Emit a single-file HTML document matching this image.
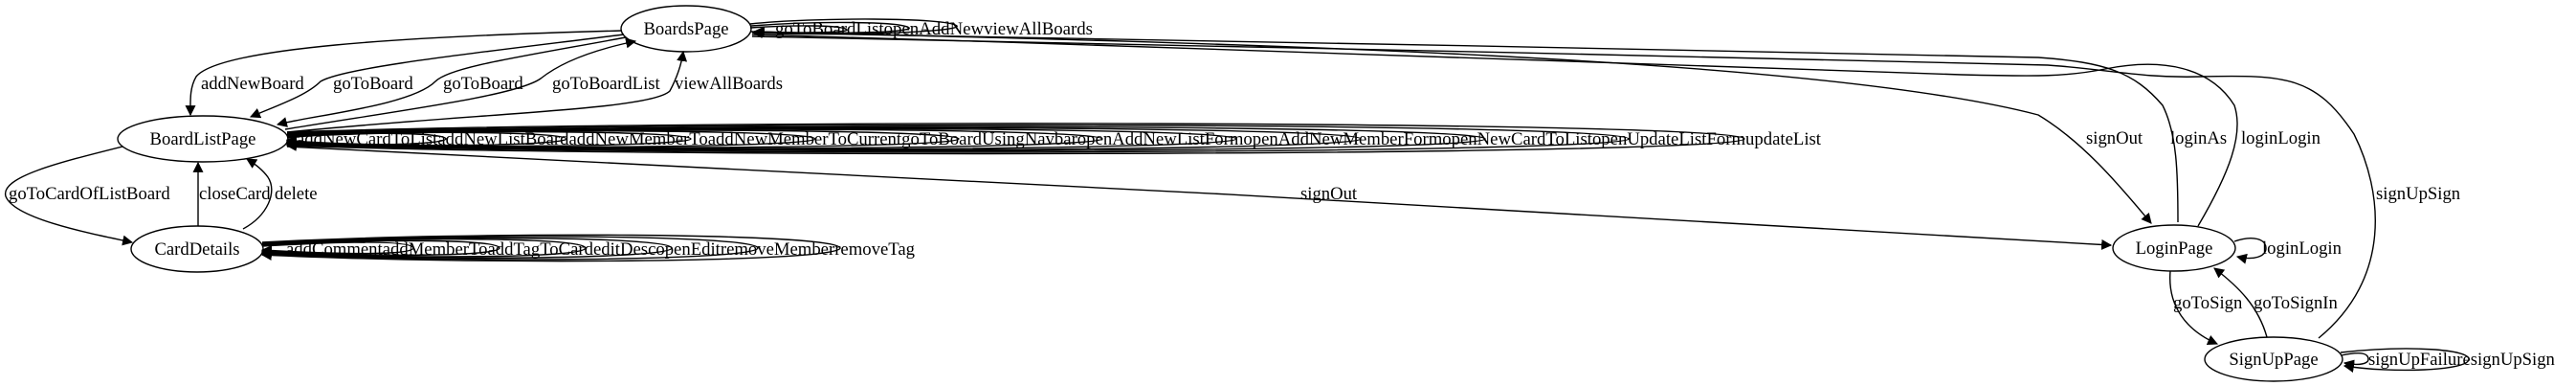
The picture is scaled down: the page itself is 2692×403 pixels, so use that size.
<!DOCTYPE html>
<html><head><meta charset="utf-8"><style>
html,body{margin:0;padding:0;background:#fff;}
svg{display:block;}
text{font-family:"Liberation Serif",serif;font-size:18.67px;fill:#000;}
</style></head><body>
<svg width="2692" height="403" viewBox="0 0 2692 403" xmlns="http://www.w3.org/2000/svg">
<defs>
<marker id="a" viewBox="0 0 10 10" refX="9" refY="5" markerWidth="11" markerHeight="11" markerUnits="userSpaceOnUse" orient="auto">
<path d="M0,0 L10,5 L0,10 z" fill="#000"/></marker>
</defs>
<g fill="none" stroke="#000" stroke-width="1.4">
<!-- nodes -->
<ellipse cx="717" cy="30" rx="68" ry="24"/>
<ellipse cx="212" cy="145" rx="89" ry="24"/>
<ellipse cx="206" cy="260" rx="69" ry="24"/>
<ellipse cx="2272" cy="259" rx="64" ry="24"/>
<ellipse cx="2376" cy="375" rx="72" ry="23"/>

<!-- BoardsPage -> BoardListPage -->
<path d="M650,32 C420,38 230,50 205,80 C198,92 199,105 199,120" marker-end="url(#a)"/>
<path d="M652,36 C500,55 360,70 335,85 C320,100 290,110 262,122" marker-end="url(#a)"/>
<path d="M654,39 C540,60 470,70 455,85 C430,110 330,120 290,130" marker-end="url(#a)"/>
<!-- BoardListPage -> BoardsPage -->
<path d="M298,135 C420,115 540,100 565,82 C590,62 630,50 664,43" marker-end="url(#a)"/>
<path d="M300,138 C500,118 680,115 700,95 C708,80 712,68 714,54" marker-end="url(#a)"/>

<!-- BoardsPage self loops -->
<path d="M784,25 C850,18 990,18 1000,27 C1005,34 860,38 787,34" marker-end="url(#a)"/>
<path d="M785,27 C850,22 940,22 950,29 C955,34 860,36 788,33" marker-end="url(#a)"/>
<path d="M784,29 C830,26 880,26 885,31 C888,34 830,35 789,33" marker-end="url(#a)"/>

<!-- BoardsPage <-> LoginPage long edges -->
<path d="M784,33 C1300,45 1900,60 2130,120 C2180,150 2220,200 2248,233" marker-end="url(#a)"/>
<path d="M2276,232 C2276,180 2275,140 2260,110 C2230,75 2200,65 2130,60 C1700,50 1200,42 786,34"/>
<path d="M2297,236 C2330,180 2345,140 2335,110 C2310,70 2260,60 2200,72 C2160,80 2130,80 2050,78 C1600,62 1200,48 786,36"/>
<path d="M2423,353 C2500,290 2490,200 2460,140 C2420,80 2390,78 2300,80 C2240,82 2200,72 2140,68 C1700,58 1200,45 786,38"/>

<!-- BoardListPage -> LoginPage signOut -->
<path d="M300,153 C900,180 1600,220 2206,256" marker-end="url(#a)"/>

<!-- BoardListPage self loops -->
<path d="M300,138 C700,124 1820,126 1823,145 C1822,162 700,166 300,152" marker-end="url(#a)"/>
<path d="M300,139 C700,126 1700,128 1702,145 C1700,160 700,164 300,151" marker-end="url(#a)"/>
<path d="M300,140 C700,128 1550,130 1552,145 C1550,159 700,162 300,150" marker-end="url(#a)"/>
<path d="M300,140 C650,130 1420,131 1422,145 C1420,158 650,161 300,150" marker-end="url(#a)"/>
<path d="M300,141 C600,131 1290,132 1292,145 C1290,157 600,160 300,149" marker-end="url(#a)"/>
<path d="M300,141 C560,132 1150,133 1152,145 C1150,156 560,159 300,149" marker-end="url(#a)"/>
<path d="M300,142 C520,133 1000,134 1002,145 C1000,155 520,158 300,148" marker-end="url(#a)"/>
<path d="M300,142 C480,134 850,135 852,145 C850,154 480,157 300,148" marker-end="url(#a)"/>
<path d="M300,143 C440,135 720,136 722,145 C720,153 440,156 300,147" marker-end="url(#a)"/>
<path d="M300,143 C400,136 590,137 592,145 C590,152 400,155 300,147" marker-end="url(#a)"/>
<path d="M300,144 C360,137 465,138 466,145 C465,151 360,154 300,146" marker-end="url(#a)"/>

<!-- CardDetails self loops -->
<path d="M274,253 C500,241 876,243 878,259 C876,274 500,277 274,266" marker-end="url(#a)"/>
<path d="M274,254 C480,243 790,245 792,259 C790,272 480,275 274,265" marker-end="url(#a)"/>
<path d="M274,255 C460,245 700,247 702,259 C700,270 460,273 274,264" marker-end="url(#a)"/>
<path d="M274,255 C440,247 610,248 612,259 C610,269 440,271 274,263" marker-end="url(#a)"/>
<path d="M274,256 C410,249 520,250 522,259 C520,267 410,269 274,262" marker-end="url(#a)"/>
<path d="M274,257 C380,251 430,252 432,259 C430,265 380,267 274,261" marker-end="url(#a)"/>

<!-- BoardListPage <-> CardDetails -->
<path d="M128,153 C60,170 0,185 6,205 C15,228 90,243 138,253" marker-end="url(#a)"/>
<path d="M207,236 L207,170" marker-end="url(#a)"/>
<path d="M254,239 C280,225 290,200 280,185 C275,178 268,172 258,166" marker-end="url(#a)"/>

<!-- LoginPage -->
<path d="M2335,252 C2355,245 2368,250 2368,259 C2368,268 2355,272 2338,268" marker-end="url(#a)"/>
<path d="M2268,283 C2265,320 2285,345 2317,359" marker-end="url(#a)"/>
<path d="M2369,352 C2360,320 2340,300 2314,280" marker-end="url(#a)"/>

<!-- SignUpPage self loops -->
<path d="M2446,368 C2520,360 2580,365 2580,375 C2580,387 2500,390 2450,382" marker-end="url(#a)"/>
<path d="M2447,371 C2470,366 2475,370 2475,375 C2475,380 2465,382 2450,379" marker-end="url(#a)"/>
</g>

<!-- labels -->
<text x="717" y="36" text-anchor="middle">BoardsPage</text>
<text x="212" y="151" text-anchor="middle">BoardListPage</text>
<text x="206" y="266" text-anchor="middle">CardDetails</text>
<text x="2272" y="265" text-anchor="middle">LoginPage</text>
<text x="2376" y="381" text-anchor="middle">SignUpPage</text>

<text x="210" y="93">addNewBoard</text>
<text x="348" y="93">goToBoard</text>
<text x="463" y="93">goToBoard</text>
<text x="577" y="93">goToBoardList</text>
<text x="705" y="93">viewAllBoards</text>
<text x="810" y="36" textLength="332" lengthAdjust="spacingAndGlyphs">goToBoardListopenAddNewviewAllBoards</text>
<text x="310" y="151" textLength="1593" lengthAdjust="spacingAndGlyphs">addNewCardToListaddNewListBoardaddNewMemberToaddNewMemberToCurrentgoToBoardUsingNavbaropenAddNewListFormopenAddNewMemberFormopenNewCardToListopenUpdateListFormupdateList</text>
<text x="299" y="266" textLength="657" lengthAdjust="spacingAndGlyphs">addCommentaddMemberToaddTagToCardeditDescopenEditremoveMemberremoveTag</text>
<text x="9" y="208">goToCardOfListBoard</text>
<text x="208" y="208">closeCard</text>
<text x="287" y="208">delete</text>
<text x="1359" y="208">signOut</text>
<text x="2180" y="150">signOut</text>
<text x="2268" y="150">loginAs</text>
<text x="2342" y="150">loginLogin</text>
<text x="2483" y="208">signUpSign</text>
<text x="2364" y="265">loginLogin</text>
<text x="2271" y="322">goToSign</text>
<text x="2355" y="322">goToSignIn</text>
<text x="2475" y="381">signUpFailuresignUpSign</text>
</svg>
</body></html>
